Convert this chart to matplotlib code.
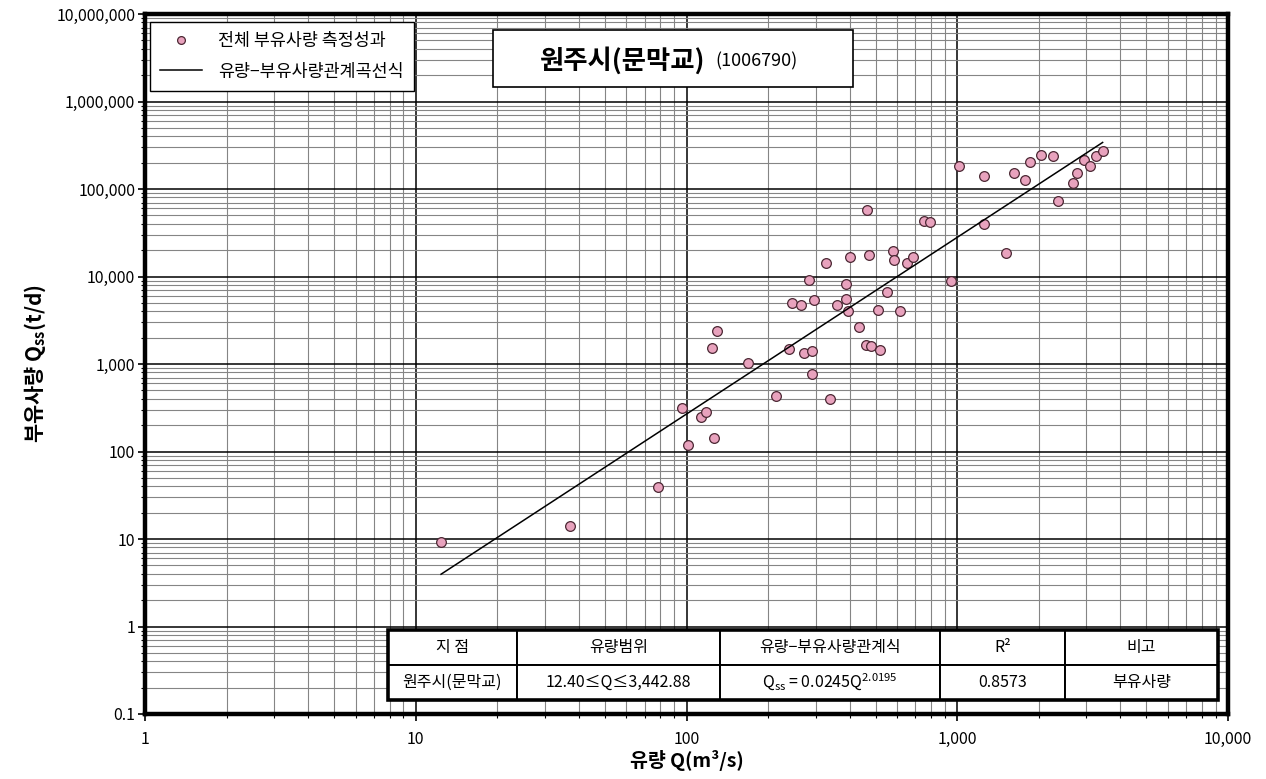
import numpy as np
import matplotlib
matplotlib.use('Agg')
import matplotlib.pyplot as plt
from matplotlib.ticker import FixedLocator, FuncFormatter, NullFormatter
from matplotlib.patches import Rectangle

plt.rcParams['font.family'] = ['Noto Sans CJK KR', 'DejaVu Sans']

# measured discharge Q (m3/s) and suspended sediment load Qss (t/d)
q = [12.4, 37.2, 78.5, 96.2, 101.6, 112.8, 118, 126.7, 124.6, 129.2,
     168, 214.7, 239.8, 244.7, 264.8, 272.4, 290, 290, 283.5, 296.5,
     327.5, 338, 358.6, 388, 389, 394, 402.7, 432.5, 464, 459,
     479, 471, 509.7, 518, 550, 580, 584, 614.5, 650.6, 684.6,
     754, 793, 946, 1015, 1252, 1252, 1518, 1620, 1784, 1856,
     2044, 2263, 2350, 2676, 2777, 2938, 3101, 3254, 3442.88]
qss = [9.2, 14.1, 39.3, 316, 118, 250, 285, 143, 1538, 2404,
       1018, 427, 1484, 4980, 4690, 1346, 1419, 762, 9200, 5390,
       14380, 398, 4760, 5490, 8150, 4070, 16850, 2650, 58000, 1634,
       1606, 17760, 4140, 1458, 6650, 19550, 15590, 4033, 14150, 16560,
       43060, 42500, 8950, 184800, 139700, 40150, 18710, 152400, 127800, 203500,
       242700, 236400, 72300, 117200, 152400, 214400, 181600, 240400, 274000]

# rating curve Qss = a * Q^b over the measured range
coef_a = 0.0245
coef_b = 2.0195
q_range = np.array([12.40, 3442.88])
fit = coef_a * q_range ** coef_b

station = '원주시(문막교)'
station_code = '(1006790)'
table_header = ['지 점', '유량범위', '유량−부유사량관계식', 'R²', '비고']
table_row = ['원주시(문막교)', '12.40≤Q≤3,442.88',
             r'$\mathregular{Q_{ss}}$ = 0.0245$\mathregular{Q^{2.0195}}$',
             '0.8573', '부유사량']

W, H = 1266, 779
fig = plt.figure(figsize=(W / 100, H / 100), dpi=100)
L, R, T, B = 145, 1228, 14, 714
ax = fig.add_axes([L / W, 1 - B / H, (R - L) / W, (B - T) / H])

def ax_x(px):
    return (px - L) / (R - L)

def ax_y(py):
    return (B - py) / (B - T)

ax.set_xscale('log')
ax.set_yscale('log')
ax.set_xlim(1, 10000)
ax.set_ylim(0.1, 1e7)

def decade_ticks(lo, hi):
    major = 10.0 ** np.arange(lo, hi + 1)
    minor = np.array([m * d for d in major[:-1] for m in range(2, 10)])
    return major, minor

fmt = FuncFormatter(lambda v, p: f'{v:,.0f}' if v >= 1 else f'{v:g}')
for axis, (lo, hi) in ((ax.xaxis, (0, 4)), (ax.yaxis, (-1, 7))):
    major, minor = decade_ticks(lo, hi)
    axis.set_major_locator(FixedLocator(major))
    axis.set_minor_locator(FixedLocator(minor))
    axis.set_minor_formatter(NullFormatter())
    axis.set_major_formatter(fmt)

ax.grid(which='major', color='black', lw=1.1)
ax.grid(which='minor', color='#858585', lw=0.8)
ax.tick_params(which='major', direction='out', length=5, width=1.2, labelsize=11.5)
ax.tick_params(which='minor', direction='out', length=3, width=0.8)
ax.tick_params(axis='x', which='major', pad=7)
ax.tick_params(axis='y', which='major', pad=2)
for sp in ax.spines.values():
    sp.set_linewidth(3.2)
    sp.set_zorder(10)

ax.plot(q, qss, 'o', ms=7, mfc='#e8a2bd', mec='#4b2733', mew=0.9,
        label='전체 부유사량 측정성과', zorder=4)
ax.plot(q_range, fit, color='black', lw=1.1, label='유량−부유사량관계곡선식', zorder=4)

leg = ax.legend(loc='upper left', bbox_to_anchor=(ax_x(150), ax_y(22)), borderaxespad=0,
                frameon=True, fancybox=False, edgecolor='black', framealpha=1,
                prop={'size': 12.5, 'weight': 'medium'}, handlelength=2.4,
                labelspacing=0.7, borderpad=0.6, handletextpad=0.9, markerscale=0.8)
leg.get_frame().set_linewidth(1.0)

# title box
ax.add_patch(Rectangle((ax_x(493), ax_y(87)), ax_x(853) - ax_x(493), ax_y(30) - ax_y(87),
                       transform=ax.transAxes, fc='white', ec='black', lw=1.2, zorder=6))
ax.text(ax_x(705), ax_y(61), station, transform=ax.transAxes, ha='right', va='center',
        fontsize=19, fontweight='bold', zorder=7)
ax.text(ax_x(715), ax_y(61), station_code, transform=ax.transAxes, ha='left', va='center',
        fontsize=13, zorder=7)

# summary table
col_px = [388, 517, 720, 940, 1065, 1218]
widths = np.diff(col_px) / (col_px[-1] - col_px[0])
bbox = [ax_x(col_px[0]), ax_y(700), ax_x(col_px[-1]) - ax_x(col_px[0]), ax_y(630) - ax_y(700)]
tbl = ax.table(cellText=[table_row], colLabels=table_header, colWidths=list(widths),
               bbox=bbox, cellLoc='center')
tbl.auto_set_font_size(False)
tbl.set_fontsize(11.5)
tbl.set_zorder(8)
for cell in tbl.get_celld().values():
    cell.set_linewidth(1.4)
    cell.set_edgecolor('black')
    cell.set_facecolor('white')
    cell.get_text().set_fontweight('medium')
ax.add_patch(Rectangle((bbox[0], bbox[1]), bbox[2], bbox[3], transform=ax.transAxes,
                       fill=False, ec='black', lw=2.6, zorder=9))

ax.set_xlabel('유량 Q(m³/s)', fontsize=14, fontweight='bold', labelpad=2)
ax.set_ylabel(r'부유사량 $\mathregular{Q_{ss}}$(t/d)', fontsize=15, fontweight='bold', labelpad=6)

fig.savefig('out.png', dpi=100)
